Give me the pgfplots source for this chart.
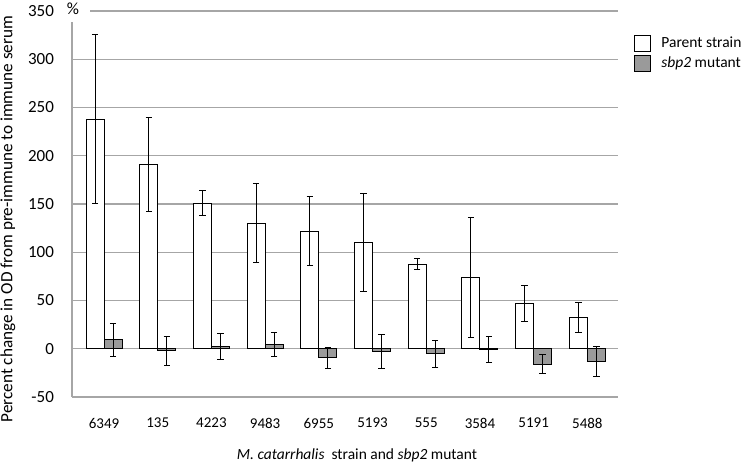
\documentclass[border=0pt]{standalone}
\usepackage{fontspec}
\setmainfont{Carlito}
\usepackage{pgfplots}
\usepackage{pgfplotstable}
\pgfplotsset{compat=1.18}
\definecolor{gridgray}{HTML}{A6A6A6}
\definecolor{mutfill}{HTML}{9A9A9A}
\pgfplotsset{boxlegend/.style={legend image code/.code={\draw[##1,line width=0.5pt] (0pt,-4pt) rectangle (8pt,4pt);}}}

% strain index, mean, error
\pgfplotstableread{
x val err
0 238 88
1 191 49
2 151 12.5
3 130 41
4 122 36
5 110 51
6 87.7 5.5
7 73.6 62
8 47.3 18.7
9 32.4 15.7
}\parent
\pgfplotstableread{
x val err
0 9.3 17
1 -2 15
2 2 13.5
3 4.5 12.7
4 -9.3 11
5 -2.8 17.6
6 -5.2 14
7 -0.5 13.5
8 -15.9 9.5
9 -13.1 15.5
}\mutant

\begin{document}
\begin{tikzpicture}
\begin{axis}[
  at={(0,0)}, anchor=south west,
  scale only axis, width=273pt, height=193pt,
  clip=false,
  xmin=-0.596, xmax=9.57, ymin=-50, ymax=350,
  ytick={-50,0,50,100,150,200,250,300,350},
  yticklabels={-50,0,50,100,150,200,250,300,350},
  xtick={0,...,9},
  xticklabels={6349,135,4223,9483,6955,5193,555,3584,5191,5488},
  ybar=0pt, bar width=9pt,
  ymajorgrids, grid style={gridgray, line width=0.6pt},
  axis lines*=left,
  axis line style={gridgray, line width=0.6pt},
  major tick length=0pt,
  yticklabel style={font=\fontsize{8.5}{10}\selectfont, anchor=east, xshift=-5.5pt},
  xticklabel style={font=\fontsize{7.5}{9}\selectfont, yshift=-7pt},
  xlabel={\textit{M. catarrhalis}\ \ strain and \textit{sbp2} mutant},
  xlabel style={at={(axis description cs:0.522,0)}, anchor=center, yshift=-29pt, font=\fontsize{7.75}{9}\selectfont},
  ylabel={Percent change in OD from pre-immune to immune serum},
  ylabel style={at={(axis description cs:0,0.461)}, anchor=center, yshift=32pt, font=\fontsize{8.6}{10}\selectfont},
  legend style={at={(axis description cs:1,1)}, anchor=north west, xshift=8pt, yshift=-11.5pt,
    draw=none, fill=none, font=\fontsize{7.75}{9}\selectfont, row sep=1.5pt, column sep=4pt, inner sep=0pt,
    nodes={inner sep=1pt}, cells={anchor=west}},
  error bars/error bar style={black, line width=0.5pt},
  error bars/error mark options={rotate=90, mark size=1.6pt, black, line width=0.5pt},
]
\addplot[fill=white, draw=black, line width=0.5pt, boxlegend,
  error bars/.cd, y dir=both, y explicit]
  table[x=x, y=val, y error=err] {\parent};
\addplot[fill=mutfill, draw=black, line width=0.5pt, boxlegend,
  error bars/.cd, y dir=both, y explicit]
  table[x=x, y=val, y error=err] {\mutant};
\legend{Parent strain, \textit{sbp2} mutant}
\fill[white] (axis description cs:0,1) ++(-3.5pt,5.5pt) rectangle ++(12.5pt,-11pt);
\node[font=\fontsize{8.5}{10}\selectfont, inner sep=0pt] at (axis description cs:0,1) [xshift=0.5pt, yshift=1pt] {\%};
\end{axis}
\pgfresetboundingbox
\path (-36pt,-37pt) rectangle (339pt,198.5pt);
\end{tikzpicture}
\end{document}
